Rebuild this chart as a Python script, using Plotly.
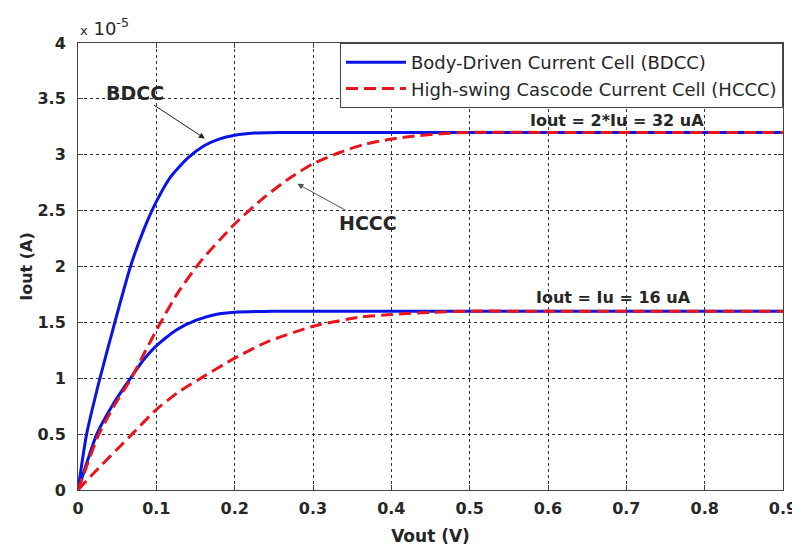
import plotly.graph_objects as go

# Data (Iout in units of 1e-5 A, Vout in V)
bdcc32_v = [0, 0.011, 0.028, 0.047, 0.067, 0.084, 0.10, 0.118, 0.14, 0.161, 0.18, 0.20, 0.225, 0.26, 0.3, 0.5, 0.7, 0.9]
bdcc32_i = [0, 0.50, 1.00, 1.50, 2.00, 2.33, 2.58, 2.80, 2.97, 3.08, 3.14, 3.175, 3.195, 3.20, 3.20, 3.20, 3.20, 3.20]

bdcc16_v = [0, 0.012, 0.024, 0.045, 0.067, 0.082, 0.10, 0.125, 0.151, 0.176, 0.20, 0.25, 0.3, 0.5, 0.7, 0.9]
bdcc16_i = [0, 0.26, 0.50, 0.77, 1.00, 1.15, 1.29, 1.43, 1.52, 1.57, 1.59, 1.60, 1.60, 1.60, 1.60, 1.60]

hccc32_v = [0, 0.013, 0.026, 0.045, 0.068, 0.085, 0.104, 0.127, 0.157, 0.20, 0.238, 0.27, 0.30, 0.334, 0.364, 0.40, 0.433, 0.467, 0.50, 0.6, 0.7, 0.9]
hccc32_i = [0, 0.25, 0.49, 0.74, 1.00, 1.23, 1.48, 1.76, 2.05, 2.38, 2.62, 2.79, 2.92, 3.02, 3.09, 3.14, 3.17, 3.19, 3.20, 3.20, 3.20, 3.20]

hccc16_v = [0, 0.02, 0.069, 0.10, 0.127, 0.159, 0.20, 0.243, 0.303, 0.363, 0.40, 0.45, 0.50, 0.6, 0.7, 0.9]
hccc16_i = [0, 0.15, 0.50, 0.72, 0.87, 1.01, 1.18, 1.33, 1.47, 1.55, 1.57, 1.59, 1.60, 1.60, 1.60, 1.60]

x_ticks = [0, 0.1, 0.2, 0.3, 0.4, 0.5, 0.6, 0.7, 0.8, 0.9]
x_ticktext = ["0", "0.1", "0.2", "0.3", "0.4", "0.5", "0.6", "0.7", "0.8", "0.9"]
y_ticks = [0, 0.5, 1, 1.5, 2, 2.5, 3, 3.5, 4]
y_ticktext = ["0", "0.5", "1", "1.5", "2", "2.5", "3", "3.5", "4"]

name_bdcc = "Body-Driven Current Cell (BDCC)"
name_hccc = "High-swing Cascode Current Cell (HCCC)"

BLUE = "#0a14e6"
RED = "#e8141e"
TXT = "#262626"
FONT = "DejaVu Sans, sans-serif"

fig = go.Figure()
fig.add_trace(go.Scatter(x=bdcc32_v, y=bdcc32_i, mode="lines", name=name_bdcc,
                         line=dict(color=BLUE, width=3, shape="spline", smoothing=0.6),
                         legendgroup="b"))
fig.add_trace(go.Scatter(x=bdcc16_v, y=bdcc16_i, mode="lines", name=name_bdcc, showlegend=False,
                         line=dict(color=BLUE, width=3, shape="spline", smoothing=0.6),
                         legendgroup="b"))
fig.add_trace(go.Scatter(x=hccc32_v, y=hccc32_i, mode="lines", name=name_hccc,
                         line=dict(color=RED, width=3, dash="12px,6px", shape="spline", smoothing=0.6),
                         legendgroup="h"))
fig.add_trace(go.Scatter(x=hccc16_v, y=hccc16_i, mode="lines", name=name_hccc, showlegend=False,
                         line=dict(color=RED, width=3, dash="12px,6px", shape="spline", smoothing=0.6),
                         legendgroup="h"))

axis_common = dict(
    showline=True, linecolor="#444444", linewidth=1, mirror="ticks",
    ticks="inside", ticklen=5, tickcolor="#444444",
    showgrid=True, gridcolor="#333333", griddash="dot", gridwidth=1,
    zeroline=False,
    tickfont=dict(family=FONT, size=16, color=TXT, weight="bold"),
)

fig.update_xaxes(range=[0, 0.9], tickvals=x_ticks, ticktext=x_ticktext, ticklabelstandoff=4,
                 title=dict(text="Vout (V)", font=dict(family=FONT, size=17, color=TXT, weight="bold"),
                            standoff=12),
                 **axis_common)
fig.update_yaxes(range=[0, 4], tickvals=y_ticks, ticktext=y_ticktext, ticklabelstandoff=8,
                 title=dict(text="Iout (A)", font=dict(family=FONT, size=16, color=TXT, weight="bold"),
                            standoff=0),
                 **axis_common)

fig.add_annotation(x=0.162, y=3.145, ax=-70, ay=-46, text="BDCC", showarrow=True,
                   arrowhead=2, arrowsize=1.2, arrowwidth=1, arrowcolor="#222222",
                   font=dict(family=FONT, size=19, color=TXT, weight="bold"))
fig.add_annotation(x=0.280, y=2.74, ax=71, ay=39, text="HCCC", showarrow=True,
                   arrowhead=2, arrowsize=1.2, arrowwidth=1, arrowcolor="#555555",
                   font=dict(family=FONT, size=19, color=TXT, weight="bold"))
fig.add_annotation(x=0.688, y=3.31, text="Iout = 2*Iu = 32 uA", showarrow=False,
                   font=dict(family=FONT, size=16, color=TXT, weight="bold"))
fig.add_annotation(x=0.684, y=1.72, text="Iout = Iu = 16 uA", showarrow=False,
                   font=dict(family=FONT, size=16, color=TXT, weight="bold"))
fig.add_annotation(xref="paper", yref="paper", x=0, y=1, xanchor="left", yanchor="bottom",
                   yshift=2, text="<span style='font-size:13px'>x</span> 10<sup>-5</sup>",
                   showarrow=False, font=dict(family=FONT, size=18, color=TXT))

fig.update_layout(
    width=800, height=550,
    margin=dict(l=70, r=25, t=35, b=68),
    plot_bgcolor="white", paper_bgcolor="white",
    legend=dict(x=1, y=1, xanchor="right", yanchor="top",
                bgcolor="white", bordercolor="#444444", borderwidth=1,
                font=dict(family=FONT, size=18, color=TXT),
                itemwidth=60, tracegroupgap=0),
)

fig.write_html("out.html")
